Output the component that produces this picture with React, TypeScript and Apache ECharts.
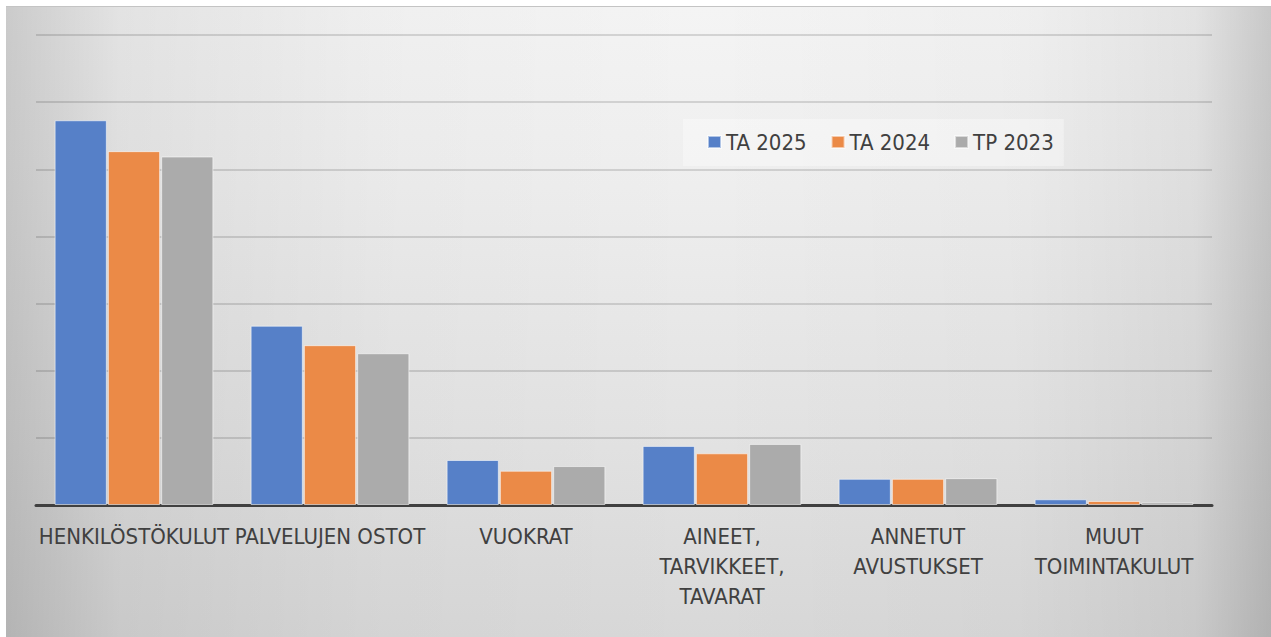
import React, { useEffect, useRef } from "react";
import * as echarts from "echarts";

const categories = [
  "HENKILÖSTÖKULUT",
  "PALVELUJEN OSTOT",
  "VUOKRAT",
  "AINEET,\nTARVIKKEET,\nTAVARAT",
  "ANNETUT\nAVUSTUKSET",
  "MUUT\nTOIMINTAKULUT",
];
const seriesNames = ["TA 2025", "TA 2024", "TP 2023"];
const ta2025 = [57.3, 26.7, 6.7, 8.8, 3.9, 0.85];
const ta2024 = [52.7, 23.8, 5.1, 7.7, 3.9, 0.6];
const tp2023 = [51.9, 22.6, 5.8, 9.1, 4.0, 0.4];
const colors = ["#5680C8", "#EB8A47", "#ABABAB"];

const FONT = "'Liberation Sans Narrow', 'Arial Narrow', 'DejaVu Sans Condensed', 'Roboto Condensed', sans-serif";

export default function App() {
  const ref = useRef<HTMLDivElement>(null);
  useEffect(() => {
    if (!ref.current) return;
    const chart = echarts.init(ref.current, undefined, { renderer: "svg" });
    const values = [ta2025, ta2024, tp2023];
    chart.setOption({
      animation: false,
      backgroundColor: "transparent",
      legend: {
        data: seriesNames,
        left: 677,
        top: 112,
        icon: "rect",
        itemWidth: 13,
        itemHeight: 12,
        itemGap: 24,
        padding: [12, 10, 13, 24],
        backgroundColor: "rgba(255,255,255,0.35)",
        textStyle: { fontSize: 22, color: "#404040", fontFamily: FONT },
      },
      grid: { left: 30, right: 59, top: 28, bottom: 132, containLabel: false },
      xAxis: {
        type: "category",
        data: categories,
        axisLine: { lineStyle: { color: "#404040", width: 3 } },
        axisTick: { show: false },
        axisLabel: {
          interval: 0,
          margin: 16,
          fontSize: 22,
          lineHeight: 30,
          color: "#404040",
          fontFamily: FONT,
          align: "center",
        },
      },
      yAxis: {
        type: "value",
        min: 0,
        max: 70,
        interval: 10,
        axisLabel: { show: false },
        axisLine: { show: false },
        axisTick: { show: false },
        splitLine: { lineStyle: { color: "rgba(0,0,0,0.13)", width: 2 } },
      },
      series: seriesNames.map((name, i) => ({
        name,
        type: "bar",
        data: values[i],
        barGap: "2%",
        barCategoryGap: "19%",
        itemStyle: {
          color: colors[i],
          borderColor: "rgba(255,255,255,0.55)",
          borderWidth: 1,
        },
      })),
    });
    return () => chart.dispose();
  }, []);
  return (
    <div
      ref={ref}
      style={{
        position: "fixed",
        left: 6,
        top: 6,
        width: 1265,
        height: 631,
        borderTop: "1px solid #c4c4c4",
        boxSizing: "border-box",
        background:
          "linear-gradient(to right, rgba(0,0,0,0.17) 0%, rgba(0,0,0,0.07) 9%, rgba(0,0,0,0.02) 30%, rgba(0,0,0,0) 55%, rgba(0,0,0,0.02) 80%, rgba(0,0,0,0.07) 94%, rgba(0,0,0,0.18) 100%), linear-gradient(to bottom, #f4f4f4 0%, #efefef 25%, #e2e2e2 70%, #d8d8d8 100%)",
      }}
    />
  );
}
